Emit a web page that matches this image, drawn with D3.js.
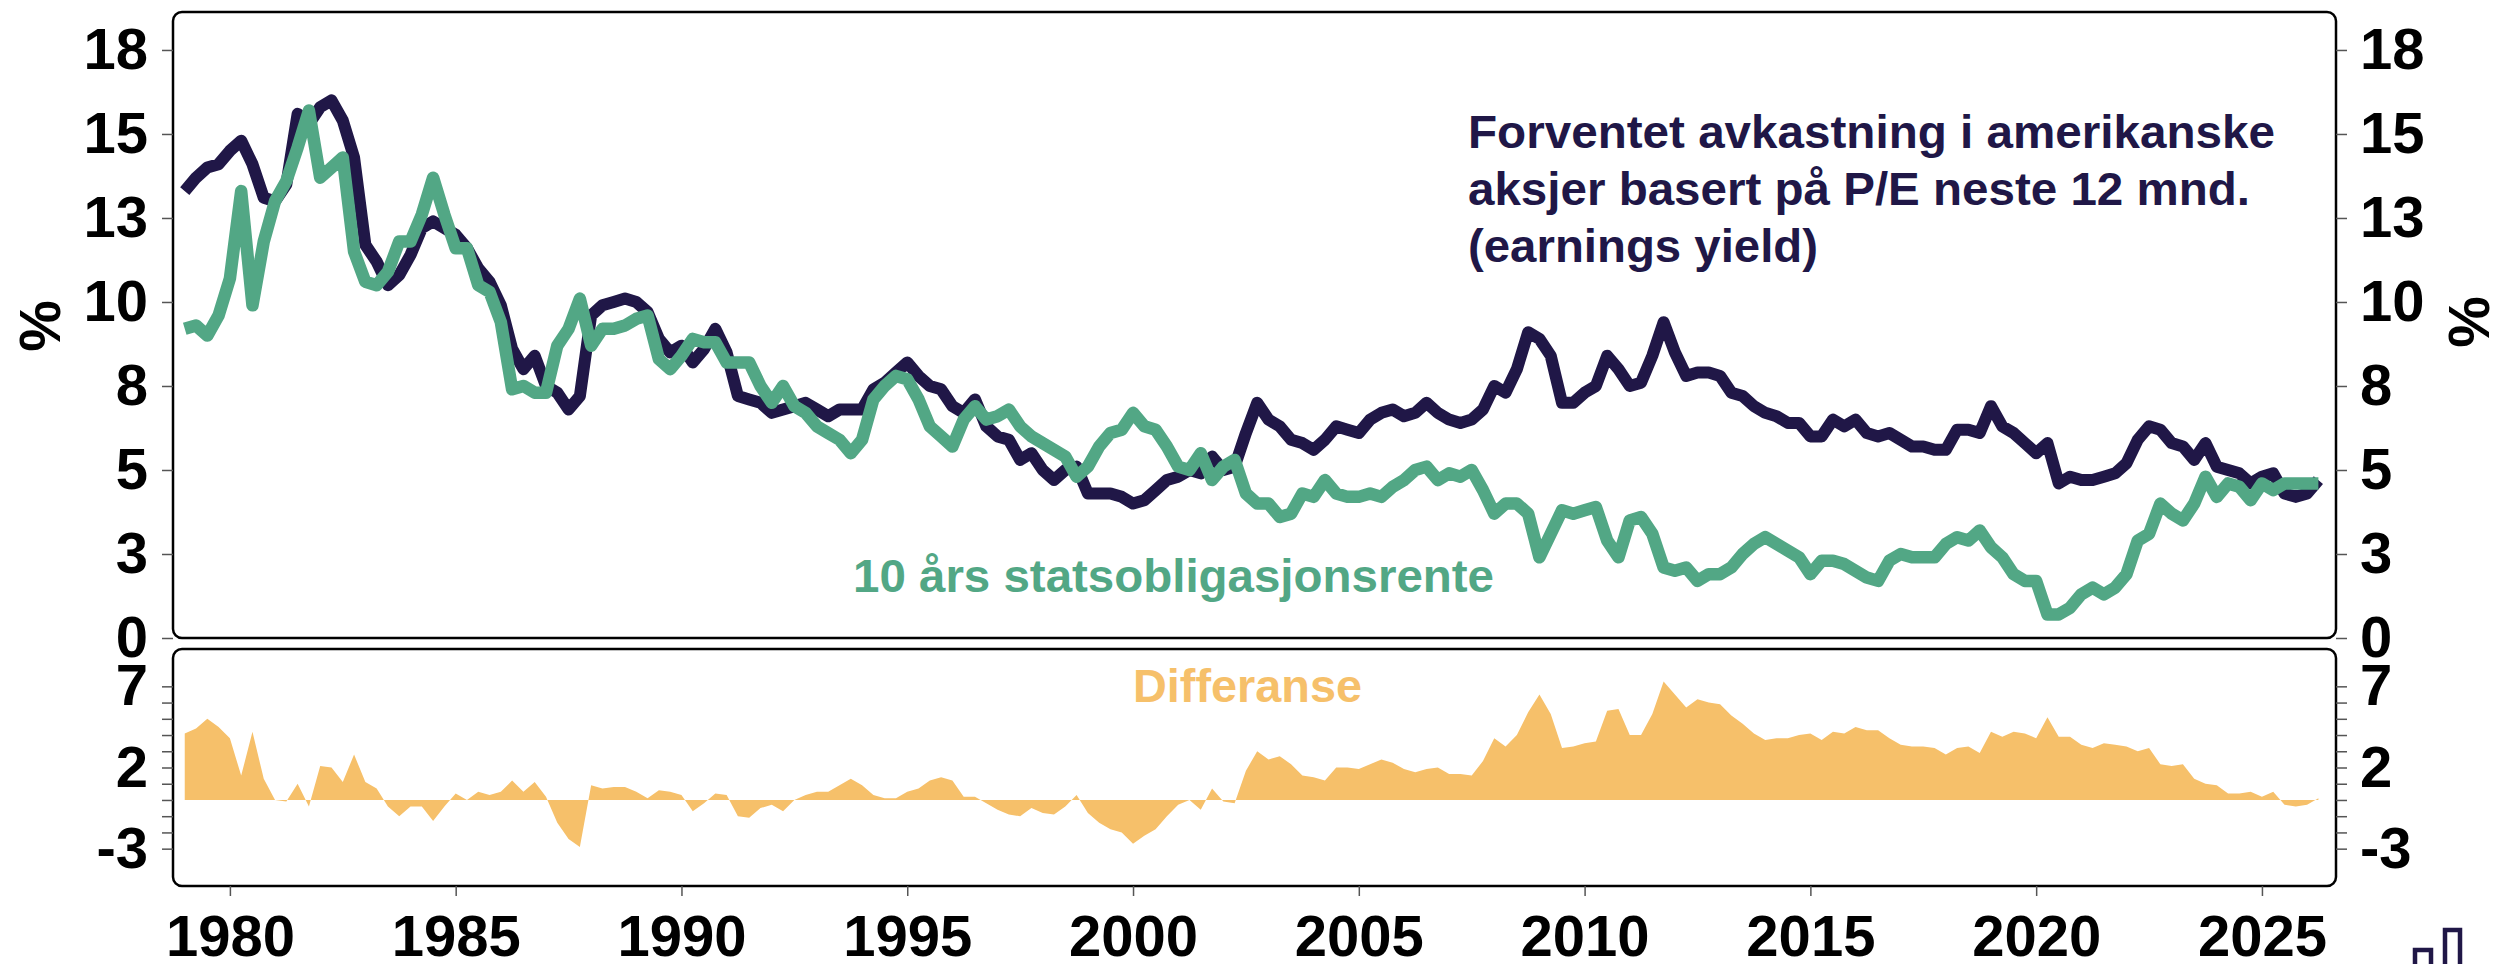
<!DOCTYPE html>
<html>
<head>
<meta charset="utf-8">
<script src="https://cdn.jsdelivr.net/npm/d3@7"></script>
<style>
  body { margin: 0; background: #fff; }
  svg text { font-family: "Liberation Sans", Arial, sans-serif; font-weight: bold; }
</style>
</head>
<body>
<svg id="chart"></svg>
<script>
// quarterly observations, first one Jan 1979
var startYear = 1979, step = 0.25;

var earningsYield = [
  13.3, 13.7, 14.0, 14.1,  14.5, 14.8, 14.1, 13.1,  13.0, 13.5, 15.6, 15.3,
  15.8, 16.0, 15.4, 14.3,  11.7, 11.2, 10.5, 10.8,  11.4, 12.2, 12.4, 12.2,
  12.0, 11.6, 11.0, 10.6,  9.9, 8.6, 8.0, 8.4,      7.5, 7.3, 6.8, 7.2,
  9.6, 9.9, 10.0, 10.1,    10.0, 9.7, 8.9, 8.5,     8.7, 8.2, 8.6, 9.2,
  8.5, 7.2, 7.1, 7.0,      6.7, 6.8, 6.9, 7.0,      6.8, 6.6, 6.8, 6.8,
  6.8, 7.4, 7.6, 7.9,      8.2, 7.8, 7.5, 7.4,      6.9, 6.7, 7.1, 6.3,
  6.0, 5.9, 5.3, 5.5,      5.0, 4.7, 5.0, 5.1,      4.3, 4.3, 4.3, 4.2,
  4.0, 4.1, 4.4, 4.7,      4.8, 5.0, 4.9, 5.4,      5.0, 5.1, 6.1, 7.0,
  6.5, 6.3, 5.9, 5.8,      5.6, 5.9, 6.3, 6.2,      6.1, 6.5, 6.7, 6.8,
  6.6, 6.7, 7.0, 6.7,      6.5, 6.4, 6.5, 6.8,      7.5, 7.3, 8.0, 9.1,
  8.9, 8.4, 7.0, 7.0,      7.3, 7.5, 8.4, 8.0,      7.5, 7.6, 8.4, 9.4,
  8.5, 7.8, 7.9, 7.9,      7.8, 7.3, 7.2, 6.9,      6.7, 6.6, 6.4, 6.4,
  6.0, 6.0, 6.5, 6.3,      6.5, 6.1, 6.0, 6.1,      5.9, 5.7, 5.7, 5.6,
  5.6, 6.2, 6.2, 6.1,      6.9, 6.3, 6.1, 5.8,      5.5, 5.8, 4.6, 4.8,
  4.7, 4.7, 4.8, 4.9,      5.2, 5.9, 6.3, 6.2,      5.8, 5.7, 5.3, 5.8,
  5.1, 5.0, 4.9, 4.6,      4.8, 4.9, 4.3, 4.2,      4.3, 4.7
];

var bondYield = [
  9.2, 9.3, 9.0, 9.6,      10.7, 13.3, 9.9, 11.8,   13.0, 13.6, 14.6, 15.7,
  13.7, 14.0, 14.3, 11.5,  10.6, 10.5, 10.9, 11.8,  11.8, 12.6, 13.7, 12.6,
  11.6, 11.6, 10.5, 10.3,  9.4, 7.4, 7.5, 7.3,      7.3, 8.7, 9.2, 10.1,
  8.7, 9.2, 9.2, 9.3,      9.5, 9.6, 8.3, 8.0,      8.4, 8.9, 8.8, 8.8,
  8.2, 8.2, 8.2, 7.5,      7.0, 7.5, 6.9, 6.7,      6.3, 6.1, 5.9, 5.5,
  5.9, 7.1, 7.5, 7.8,      7.7, 7.1, 6.3, 6.0,      5.7, 6.5, 6.9, 6.5,
  6.6, 6.8, 6.3, 6.0,      5.8, 5.6, 5.4, 4.8,      5.1, 5.7, 6.1, 6.2,
  6.7, 6.3, 6.2, 5.7,      5.1, 5.0, 5.5, 4.7,      5.1, 5.3, 4.3, 4.0,
  4.0, 3.6, 3.7, 4.3,      4.2, 4.7, 4.3, 4.2,      4.2, 4.3, 4.2, 4.5,
  4.7, 5.0, 5.1, 4.7,      4.9, 4.8, 5.0, 4.4,      3.7, 4.0, 4.0, 3.7,
  2.4, 3.1, 3.8, 3.7,      3.8, 3.9, 2.9, 2.4,      3.5, 3.6, 3.1, 2.1,
  2.0, 2.1, 1.7, 1.9,      1.9, 2.1, 2.5, 2.8,      3.0, 2.8, 2.6, 2.4,
  1.9, 2.3, 2.3, 2.2,      2.0, 1.8, 1.7, 2.3,      2.5, 2.4, 2.4, 2.4,
  2.8, 3.0, 2.9, 3.2,      2.7, 2.4, 1.9, 1.7,      1.7, 0.7, 0.7, 0.9,
  1.3, 1.5, 1.3, 1.5,      1.9, 2.9, 3.1, 4.0,      3.7, 3.5, 4.0, 4.8,
  4.2, 4.6, 4.5, 4.1,      4.6, 4.4, 4.6, 4.6,      4.6, 4.6
];

var yearTicks = [1980, 1985, 1990, 1995, 2000, 2005, 2010, 2015, 2020, 2025];
var topTicks = [0, 2.5, 5, 7.5, 10, 12.5, 15, 17.5];
var diffTicks = [-3, -2, -1, 0, 1, 2, 3, 4, 5, 6, 7];
var diffLabels = [-3, 2, 7];

var eyLabel = ["Forventet avkastning i amerikanske",
               "aksjer basert på P/E neste 12 mnd.",
               "(earnings yield)"];
var bondLabel = "10 års statsobligasjonsrente";
var diffLabel = "Differanse";

var navy = "#201747", green = "#52a785", orange = "#f6c06a";

var W = 2499, H = 964;
var left = 173, right = 2336,
    top1 = 12, bot1 = 638,
    top2 = 649, bot2 = 886;

var svg = d3.select("#chart").attr("width", W).attr("height", H);

var data = earningsYield.map(function(v, i) {
  return {year: startYear + i * step, ey: v, bond: bondYield[i]};
});

var x = d3.scaleLinear().domain([1978.74, 2026.64]).range([left, right]);
var y1 = d3.scaleLinear().domain([0, 18.63]).range([bot1, top1]);
var y2 = d3.scaleLinear().domain([-5.3, 9.3]).range([bot2, top2]);

// difference area
var area = d3.area()
  .x(function(d) { return x(d.year); })
  .y0(y2(0))
  .y1(function(d) { return y2(d.ey - d.bond); });

svg.append("path")
  .datum(data)
  .attr("fill", orange)
  .attr("d", area);

// lines
var lineEy = d3.line()
  .x(function(d) { return x(d.year); })
  .y(function(d) { return y1(d.ey); });
var lineBond = d3.line()
  .x(function(d) { return x(d.year); })
  .y(function(d) { return y1(d.bond); });

svg.append("path")
  .datum(data)
  .attr("fill", "none")
  .attr("stroke", navy)
  .attr("stroke-width", 12)
  .attr("stroke-linejoin", "round")
  .attr("d", lineEy);

svg.append("path")
  .datum(data)
  .attr("fill", "none")
  .attr("stroke", green)
  .attr("stroke-width", 12.5)
  .attr("stroke-linejoin", "round")
  .attr("d", lineBond);

// panel frames
[[top1, bot1], [top2, bot2]].forEach(function(p) {
  svg.append("rect")
    .attr("x", left).attr("y", p[0])
    .attr("width", right - left).attr("height", p[1] - p[0])
    .attr("rx", 9).attr("ry", 9)
    .attr("fill", "none")
    .attr("stroke", "#000")
    .attr("stroke-width", 2.5);
});

function styleAxis(g, size) {
  g.select(".domain").remove();
  g.selectAll(".tick line").attr("stroke", "#555").attr("stroke-width", 1.5);
  g.selectAll(".tick text").attr("fill", "#000").style("font-size", size + "px");
}

var fmtTop = function(d) { return String(Math.round(d)); };
var fmtDiff = function(d) { return diffLabels.indexOf(d) >= 0 ? String(d) : ""; };

svg.append("g").attr("transform", "translate(" + left + ",0)")
  .call(d3.axisLeft(y1).tickValues(topTicks).tickSize(11).tickPadding(14).tickFormat(fmtTop))
  .call(styleAxis, 58);
svg.append("g").attr("transform", "translate(" + right + ",0)")
  .call(d3.axisRight(y1).tickValues(topTicks).tickSize(11).tickPadding(13).tickFormat(fmtTop))
  .call(styleAxis, 58);
svg.append("g").attr("transform", "translate(" + left + ",0)")
  .call(d3.axisLeft(y2).tickValues(diffTicks).tickSize(11).tickPadding(14).tickFormat(fmtDiff))
  .call(styleAxis, 58);
svg.append("g").attr("transform", "translate(" + right + ",0)")
  .call(d3.axisRight(y2).tickValues(diffTicks).tickSize(11).tickPadding(13).tickFormat(fmtDiff))
  .call(styleAxis, 58);
svg.append("g").attr("transform", "translate(0," + bot2 + ")")
  .call(d3.axisBottom(x).tickValues(yearTicks).tickSize(10).tickPadding(19).tickFormat(d3.format("d")))
  .call(styleAxis, 58);

// % titles
[[40, 326], [2469, 322]].forEach(function(p) {
  svg.append("text")
    .attr("transform", "translate(" + p[0] + "," + p[1] + ") rotate(-90)")
    .attr("text-anchor", "middle")
    .attr("dy", "0.35em")
    .style("font-size", "58px")
    .attr("fill", "#000")
    .text("%");
});

// series labels
var eyWidths = [807, 782, 350];
eyLabel.forEach(function(t, i) {
  svg.append("text")
    .attr("x", 1468).attr("y", 148 + i * 57)
    .attr("fill", navy)
    .style("font-size", "46px")
    .attr("textLength", eyWidths[i])
    .attr("lengthAdjust", "spacingAndGlyphs")
    .text(t);
});

svg.append("text")
  .attr("x", 853).attr("y", 592)
  .attr("fill", green)
  .style("font-size", "46px")
  .attr("textLength", 641)
  .attr("lengthAdjust", "spacingAndGlyphs")
  .text(bondLabel);

svg.append("text")
  .attr("x", 1133).attr("y", 702)
  .attr("fill", orange)
  .style("font-size", "47px")
  .attr("textLength", 229)
  .attr("lengthAdjust", "spacingAndGlyphs")
  .text(diffLabel);

// little bar logo, bottom right
var logo = svg.append("g").attr("fill", "none").attr("stroke", navy).attr("stroke-width", 4.5);
logo.append("rect").attr("x", 2415).attr("y", 950).attr("width", 16).attr("height", 30);
logo.append("rect").attr("x", 2445).attr("y", 930).attr("width", 15).attr("height", 50);
</script>
</body>
</html>
